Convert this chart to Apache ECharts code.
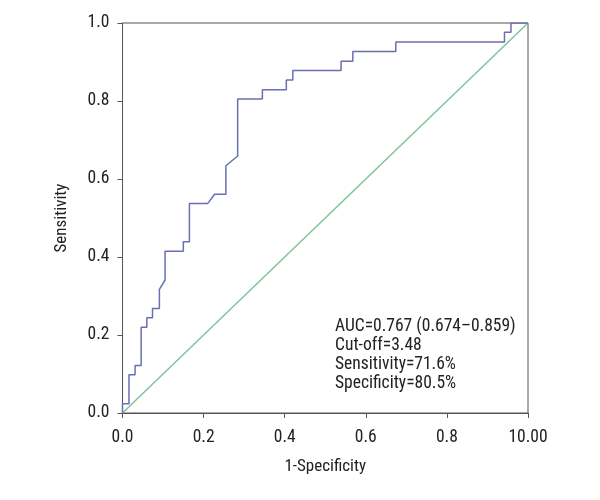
<!DOCTYPE html>
<html><head><meta charset="utf-8">
<script src="https://cdn.jsdelivr.net/npm/echarts@6/dist/echarts.min.js"></script>
<style>html,body{margin:0;padding:0;background:#fff}#c{width:600px;height:500px}</style>
</head><body><div id="c"></div>
<script>
// ROC curve corner points (1-specificity, sensitivity)
var fpr = [0,0,0.016,0.016,0.031,0.031,0.046,0.046,0.060,0.060,0.074,0.074,0.091,0.091,0.105,0.105,0.150,0.150,0.165,0.165,0.210,0.227,0.255,0.255,0.284,0.284,0.345,0.345,0.404,0.404,0.420,0.420,0.539,0.539,0.568,0.568,0.674,0.674,0.942,0.942,0.958,0.958,1.0];
var tpr = [0,0.024,0.024,0.098,0.098,0.122,0.122,0.220,0.220,0.244,0.244,0.268,0.268,0.317,0.341,0.415,0.415,0.439,0.439,0.537,0.537,0.561,0.561,0.634,0.659,0.805,0.805,0.829,0.829,0.854,0.854,0.878,0.878,0.902,0.902,0.927,0.927,0.951,0.951,0.976,0.976,1.0,1.0];
var refX = [0, 1];
var refY = [0, 1];
var xTicks = ['0.0','0.2','0.4','0.6','0.8','10.00'];
var yTicks = ['0.0','0.2','0.4','0.6','0.8','1.0'];
var notes = ['AUC=0.767 (0.674\u20130.859)','Cut-off=3.48','Sensitivity=71.6%','Specificity=80.5%'];

var FONT = '"Liberation Sans Narrow","Roboto Condensed","DejaVu Sans Condensed",sans-serif';
var chart = echarts.init(document.getElementById('c'));
chart.setOption({
  backgroundColor: '#fff',
  animation: false,
  grid: {left: 122.5, right: 72, top: 23, bottom: 87, show: true, borderColor: '#555', borderWidth: 1},
  xAxis: {
    type: 'value', min: 0, max: 1, interval: 0.2,
    name: '1-Specificity', nameLocation: 'middle', nameGap: 45,
    nameTextStyle: {fontFamily: FONT, fontSize: 17, color: '#222'},
    axisLine: {lineStyle: {color: '#555'}},
    axisTick: {show: true, length: 5, lineStyle: {color: '#555'}},
    splitLine: {show: false},
    axisLabel: {fontFamily: FONT, fontSize: 17.5, color: '#222', margin: 16,
      formatter: function(v){ return xTicks[Math.round(v/0.2)]; }}
  },
  yAxis: {
    type: 'value', min: 0, max: 1, interval: 0.2,
    name: 'Sensitivity', nameLocation: 'middle', nameGap: 52,
    nameTextStyle: {fontFamily: FONT, fontSize: 17, color: '#222'},
    axisLine: {show: true, lineStyle: {color: '#555'}},
    axisTick: {show: true, length: 5, lineStyle: {color: '#555'}},
    splitLine: {show: false},
    axisLabel: {fontFamily: FONT, fontSize: 17.5, color: '#222', margin: 13,
      formatter: function(v){ return yTicks[Math.round(v/0.2)]; }}
  },
  series: [
    {type: 'line', data: refX.map(function(x,i){return [x, refY[i]];}), symbol: 'none',
     lineStyle: {color: '#7cc49c', width: 1.5}, z: 2},
    {type: 'line', data: fpr.map(function(x,i){return [x, tpr[i]];}), symbol: 'none',
     lineStyle: {color: '#6a6fb3', width: 1.5}, z: 3}
  ],
  graphic: [{
    type: 'text', left: 335, top: 317,
    style: {text: notes.join('\n'), fontFamily: FONT, fontSize: 17.5, lineHeight: 19, fill: '#222'}
  }]
});
</script></body></html>
